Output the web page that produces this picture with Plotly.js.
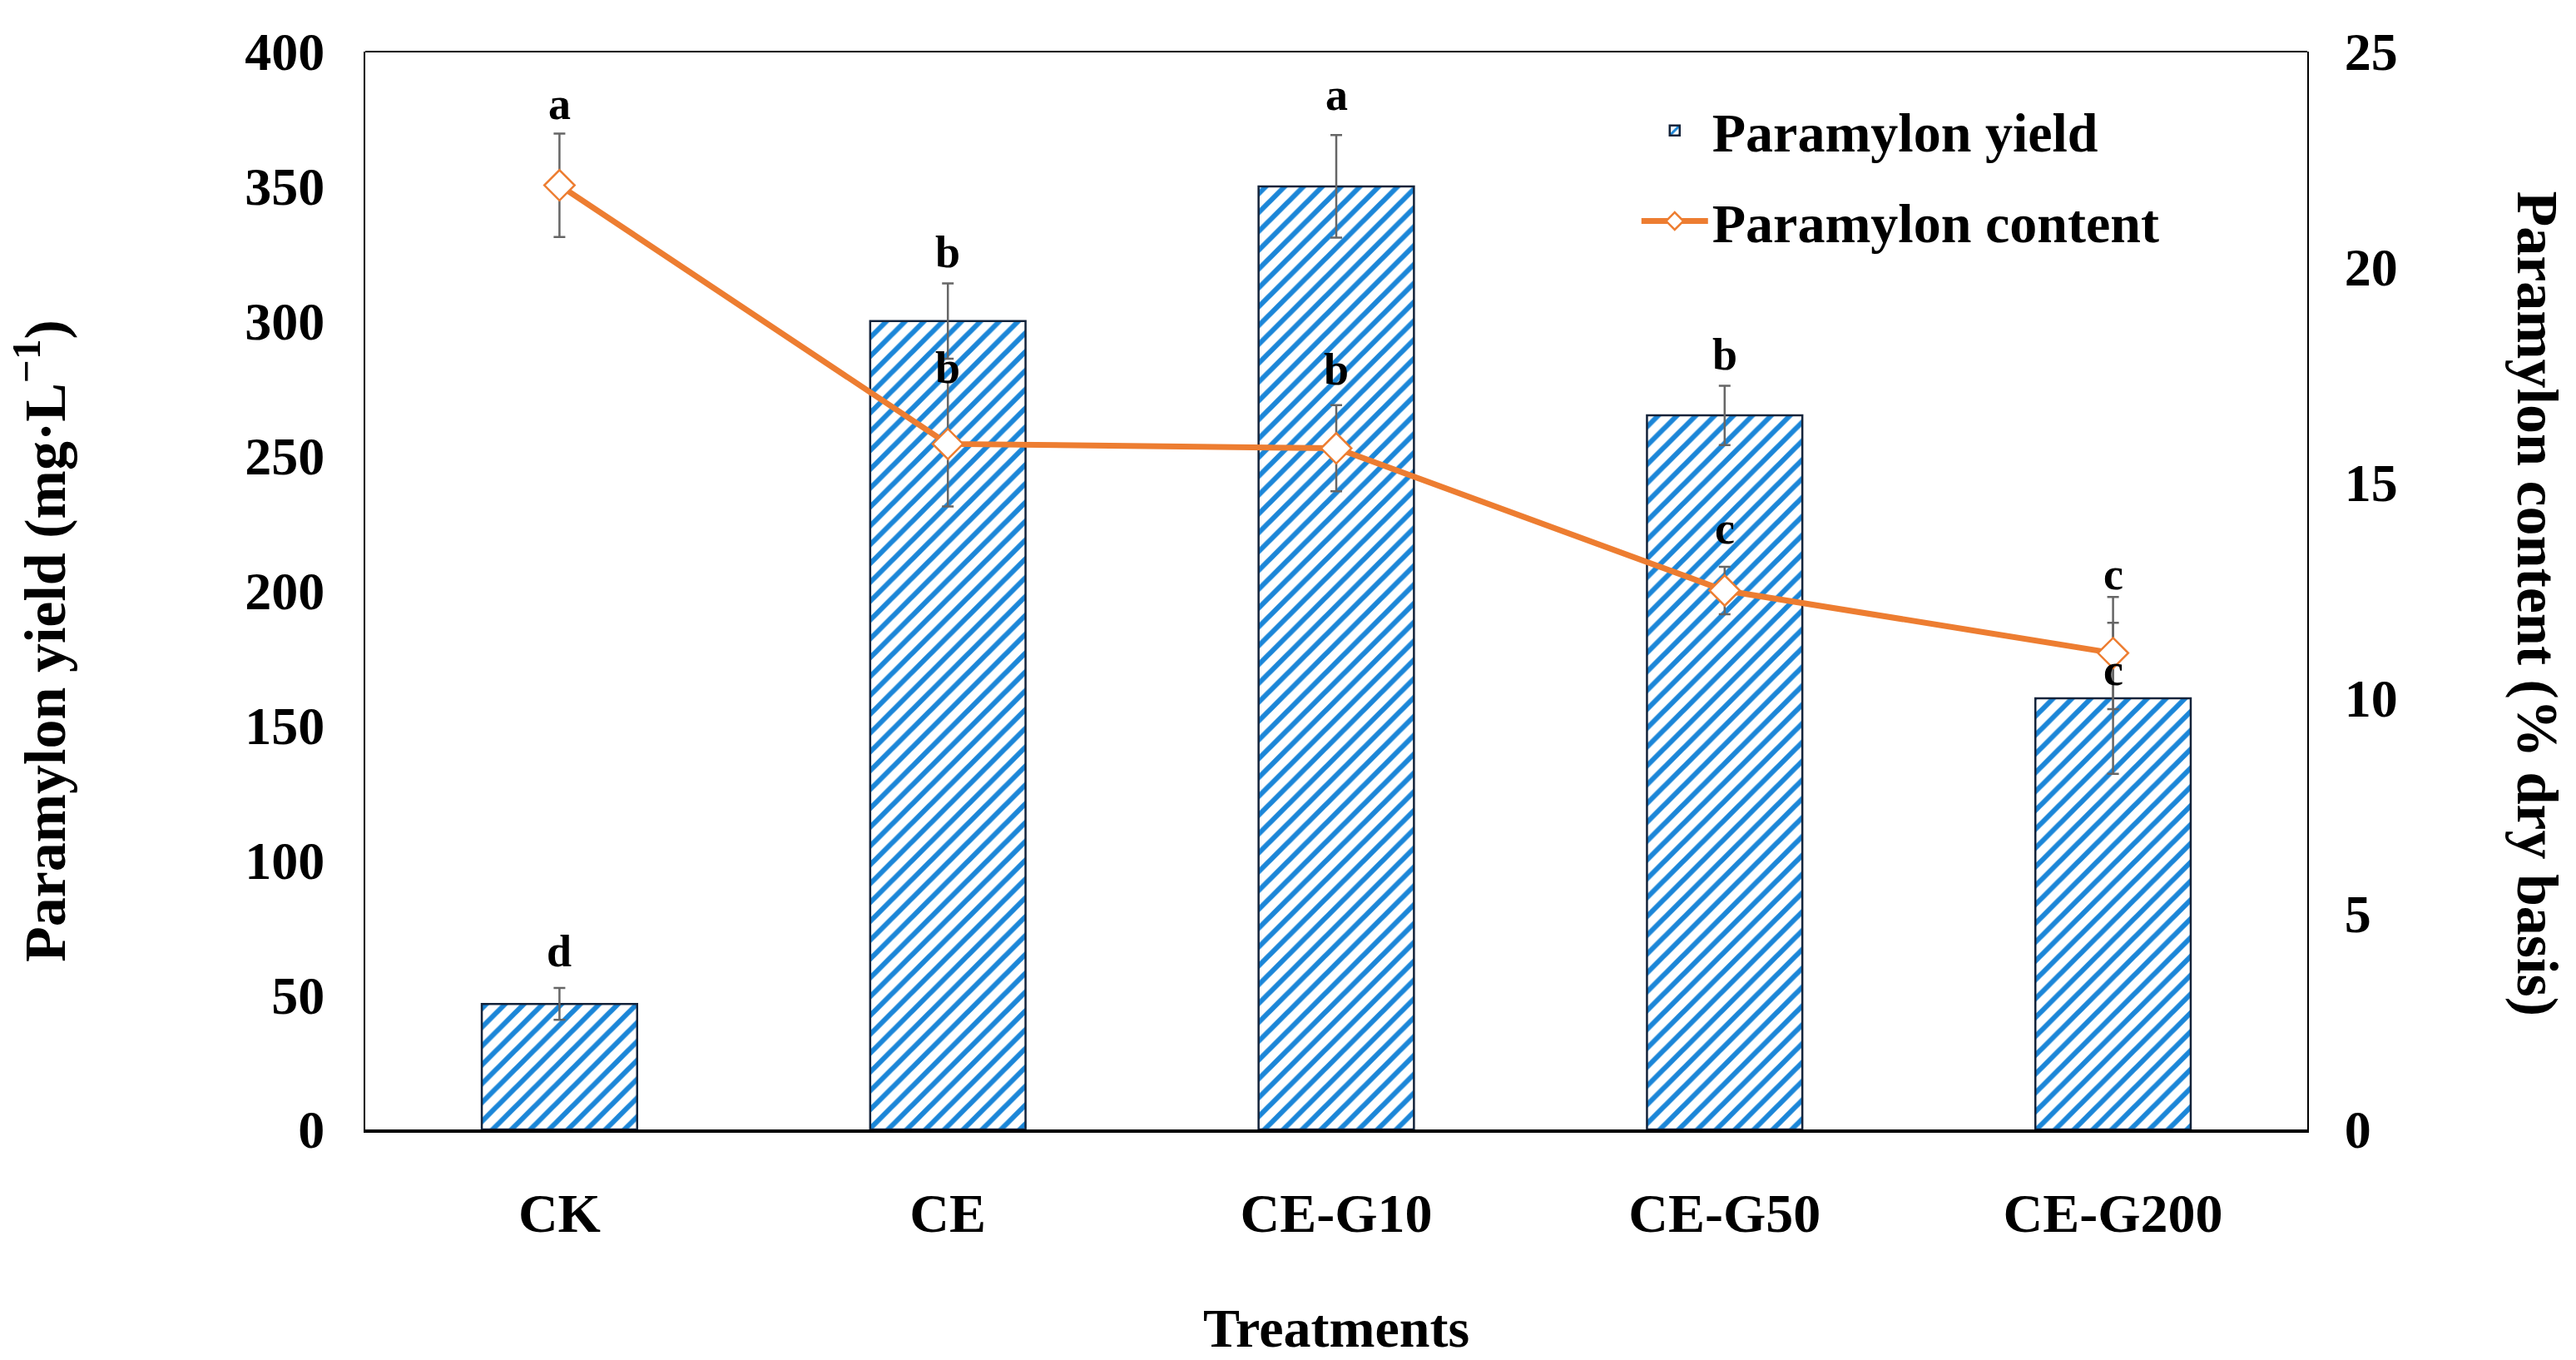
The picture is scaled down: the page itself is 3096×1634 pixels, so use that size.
<!DOCTYPE html>
<html>
<head>
<meta charset="utf-8">
<script src="https://cdn.plot.ly/plotly-3.0.1.min.js"></script>
<style>html,body{margin:0;padding:0;background:#fff;}#chart{width:3096px;height:1634px;}</style>
</head>
<body>
<div id="chart"></div>
<script>
// ---- data ----
const treatments = ['CK', 'CE', 'CE-G10', 'CE-G50', 'CE-G200'];
const yieldValues = [46.6, 300, 350, 265, 160];          // mg·L-1
const yieldErrors = [5.9, 14, 19, 11, 28];
const contentValues = [21.9, 15.9, 15.8, 12.5, 11.05];   // % dry basis
const contentErrors = [1.2, 1.45, 1.0, 0.55, 1.3];
const yieldLetters = ['d', 'b', 'a', 'b', 'c'];
const yieldLetterPos = [66, 325.6, 384, 287.6, 170.5];     // in yield units
const contentLetters = ['a', 'b', 'b', 'c', 'c'];
const contentLetterPos = [23.78, 17.66, 17.63, 13.94, 12.88]; // in content units
const yTicksLeft = [0, 50, 100, 150, 200, 250, 300, 350, 400];
const yTicksRight = [0, 5, 10, 15, 20, 25];

const FONT = 'Liberation Serif, Times New Roman, serif';
const ORANGE = '#ED7D31';
const ERR = '#666666';

const barTrace = {
  type: 'bar',
  name: 'Paramylon yield',
  legendgroup: 'g1',
  x: treatments,
  y: yieldValues,
  yaxis: 'y',
  marker: {
    color: 'white',
    line: {color: '#14233a', width: 2.5},
    pattern: {shape: '/', fgcolor: '#1b86d8', bgcolor: 'white', size: 16, solidity: 0.38}
  },
  error_y: {type: 'data', array: yieldErrors, visible: true, color: ERR, thickness: 2.5, width: 7}
};

const lineTrace = {
  type: 'scatter',
  mode: 'lines+markers',
  name: 'Paramylon content',
  legendgroup: 'g2',
  x: treatments,
  y: contentValues,
  yaxis: 'y2',
  line: {color: ORANGE, width: 7},
  marker: {symbol: 'diamond', size: 28, color: 'white', line: {color: ORANGE, width: 2.5}},
  error_y: {type: 'data', array: contentErrors, visible: true, color: ERR, thickness: 2.5, width: 7}
};

const annotations = [];
treatments.forEach((t, i) => {
  annotations.push({x: t, y: yieldLetterPos[i], xref: 'x', yref: 'y', text: yieldLetters[i],
    xanchor: 'center', yanchor: 'middle',
    showarrow: false, font: {family: FONT, size: 54, color: '#000', weight: 'bold'}});
  annotations.push({x: t, y: contentLetterPos[i], xref: 'x', yref: 'y2', text: contentLetters[i],
    xanchor: 'center', yanchor: 'middle',
    showarrow: false, font: {family: FONT, size: 54, color: '#000', weight: 'bold'}});
});
annotations.push({xref: 'paper', yref: 'paper', x: -0.1672, y: 0.453, textangle: -90,
  xanchor: 'center', yanchor: 'middle',
  text: 'Paramylon yield (mg·L<sup>−1</sup>)', showarrow: false,
  font: {family: FONT, size: 70, color: '#000', weight: 'bold'}});
annotations.push({xref: 'paper', yref: 'paper', x: 1.1185, y: 0.488, textangle: 90,
  xanchor: 'center', yanchor: 'middle',
  text: 'Paramylon content (% dry basis)', showarrow: false,
  font: {family: FONT, size: 70, color: '#000', weight: 'bold'}});

const layout = {
  width: 3096, height: 1634,
  margin: {l: 439, r: 323, t: 62, b: 277, pad: 0},
  paper_bgcolor: 'white', plot_bgcolor: 'white',
  font: {family: FONT, color: '#000', weight: 'bold'},
  bargap: 0.6,
  showlegend: true,
  legend: {x: 0.655, y: 0.965, xanchor: 'left', yanchor: 'top', bgcolor: 'rgba(0,0,0,0)',
    font: {family: FONT, size: 66, color: '#000', weight: 'bold'},
    itemwidth: 80, itemsizing: 'trace',
    traceorder: 'grouped', tracegroupgap: 20},
  xaxis: {
    type: 'category', range: [-0.5, 4.5],
    showline: true, linecolor: '#000', linewidth: 4, ticks: '', showgrid: false, zeroline: false,
    tickfont: {family: FONT, size: 66, color: '#000', weight: 'bold'},
    ticklabelstandoff: 40,
    title: {text: 'Treatments', font: {family: FONT, size: 66, color: '#000', weight: 'bold'}, standoff: 80}
  },
  yaxis: {
    range: [0, 400], tickvals: yTicksLeft, showgrid: false, zeroline: false,
    showline: true, linecolor: '#000', linewidth: 2, ticks: '',
    tickfont: {family: FONT, size: 64, color: '#000', weight: 'bold'},
    ticklabelstandoff: 34
  },
  yaxis2: {
    range: [0, 25], tickvals: yTicksRight, overlaying: 'y', side: 'right',
    showgrid: false, zeroline: false, showline: true, linecolor: '#000', linewidth: 2, ticks: '',
    tickfont: {family: FONT, size: 64, color: '#000', weight: 'bold'},
    ticklabelstandoff: 30
  },
  shapes: [{type: 'line', xref: 'paper', yref: 'paper', x0: 0, x1: 1, y0: 1, y1: 1,
    line: {color: '#000', width: 2}}],
  annotations: annotations
};

Plotly.newPlot('chart', [barTrace, lineTrace], layout, {displayModeBar: false, staticPlot: true});
</script>
</body>
</html>
